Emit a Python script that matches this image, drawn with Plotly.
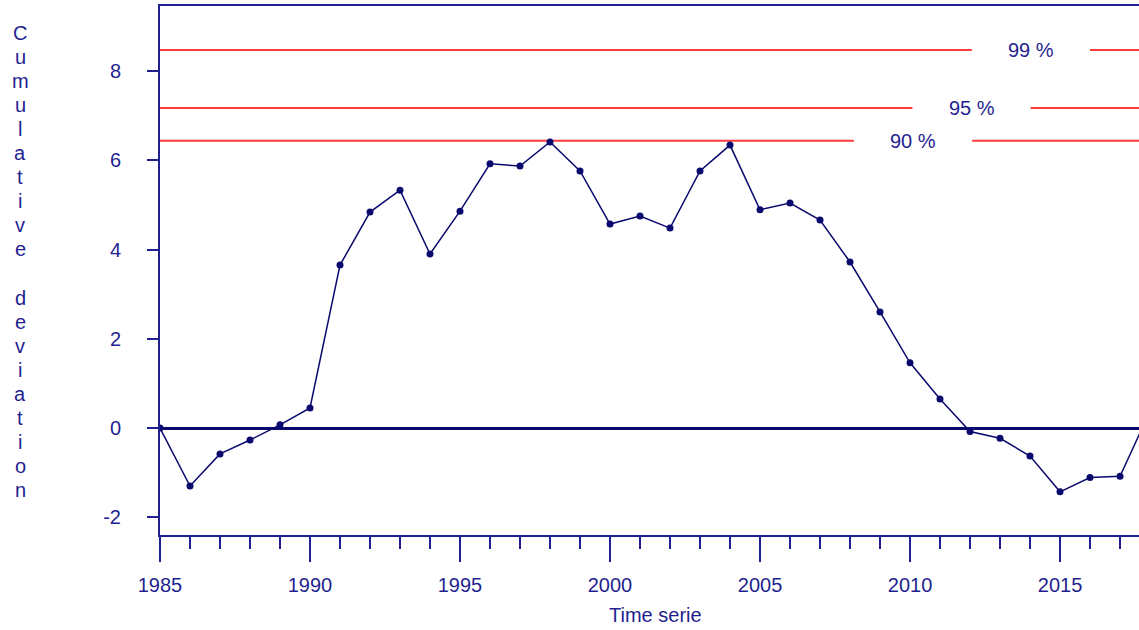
import plotly.graph_objects as go

# Cumulative deviation series
years = list(range(1985, 2019))
cum_dev = [0.00, -1.30, -0.58, -0.27, 0.07, 0.45, 3.65, 4.84, 5.33, 3.90,
           4.86, 5.92, 5.87, 6.41, 5.76, 4.57, 4.75, 4.48, 5.76, 6.34,
           4.89, 5.04, 4.66, 3.72, 2.60, 1.46, 0.65, -0.08, -0.23, -0.63,
           -1.43, -1.11, -1.08, 0.38]

# Significance thresholds
level_names = ["90 %", "95 %", "99 %"]
level_values = [6.44, 7.17, 8.47]
level_label_x = [2010.1, 2012.05, 2014.03]

# Y tick labels (plain hyphen for negatives)
y_tick_vals = [-2, 0, 2, 4, 6, 8]
y_tick_text = ["-2", "0", "2", "4", "6", "8"]

x_range = [1985, 2017.633]
y_range = [-2.398, 9.457]

NAVY = "#1f1f8f"
DARK = "#0a0a6e"
RED = "#ff3b3b"
FONT = "Liberation Sans"

fig = go.Figure()

# Threshold lines, broken around their labels
for name, val, lx in zip(level_names, level_values, level_label_x):
    gap = 1.97
    fig.add_trace(go.Scatter(
        x=[x_range[0], lx - gap, None, lx + gap, 2030],
        y=[val, val, None, val, val],
        mode="lines", line=dict(color=RED, width=2),
        hoverinfo="skip", showlegend=False, cliponaxis=True,
    ))
    fig.add_annotation(x=lx, y=val, xref="x", yref="y", text=name,
                       showarrow=False, font=dict(family=FONT, size=20, color=NAVY),
                       xanchor="center", yanchor="middle")

fig.add_trace(go.Scatter(
    x=years, y=cum_dev, mode="lines+markers",
    line=dict(color=DARK, width=1.5),
    marker=dict(color=DARK, size=7),
    showlegend=False,
))

fig.update_xaxes(
    range=x_range, showgrid=False, zeroline=False,
    showline=True, linecolor=NAVY, linewidth=2, mirror=True,
    ticks="outside", ticklen=25, tickwidth=2, tickcolor=NAVY,
    tick0=1985, dtick=5, ticklabelstandoff=6,
    minor=dict(dtick=1, ticks="outside", ticklen=12, tickwidth=2, tickcolor=NAVY, showgrid=False),
    tickfont=dict(family=FONT, size=20, color=NAVY),
)
fig.update_yaxes(
    range=y_range, showgrid=False,
    zeroline=True, zerolinecolor=DARK, zerolinewidth=3,
    showline=True, linecolor=NAVY, linewidth=2,
    ticks="outside", ticklen=11, tickwidth=2, tickcolor=NAVY,
    tickvals=y_tick_vals, ticktext=y_tick_text, ticklabelstandoff=22,
    tickfont=dict(family=FONT, size=20, color=NAVY),
)

# X axis title
fig.add_annotation(x=655, y=615, xref="paper", yref="paper", text="Time serie",
                   showarrow=False, font=dict(family=FONT, size=20, color=NAVY),
                   xanchor="center", yanchor="middle")

# Vertical stacked y-axis title
y_title = "Cumulative deviation"
for i, ch in enumerate(y_title):
    if ch == " ":
        continue
    fig.add_annotation(x=20, y=33 + i * 24.05, xref="paper", yref="paper", text=ch,
                       showarrow=False, font=dict(family=FONT, size=20, color=NAVY),
                       xanchor="center", yanchor="middle")

W, H = 1139, 630
fig.update_layout(
    width=W, height=H,
    margin=dict(l=160, r=0, t=6, b=95),
    plot_bgcolor="white", paper_bgcolor="white",
)

# Convert pixel-based annotation positions to paper coordinates
pw, ph = W - 160, H - 6 - 95
for ann in fig.layout.annotations:
    if ann.xref == "paper":
        ann.x = (ann.x - 160) / pw
        ann.y = (H - 95 - ann.y) / ph

fig.write_html("out.html")
